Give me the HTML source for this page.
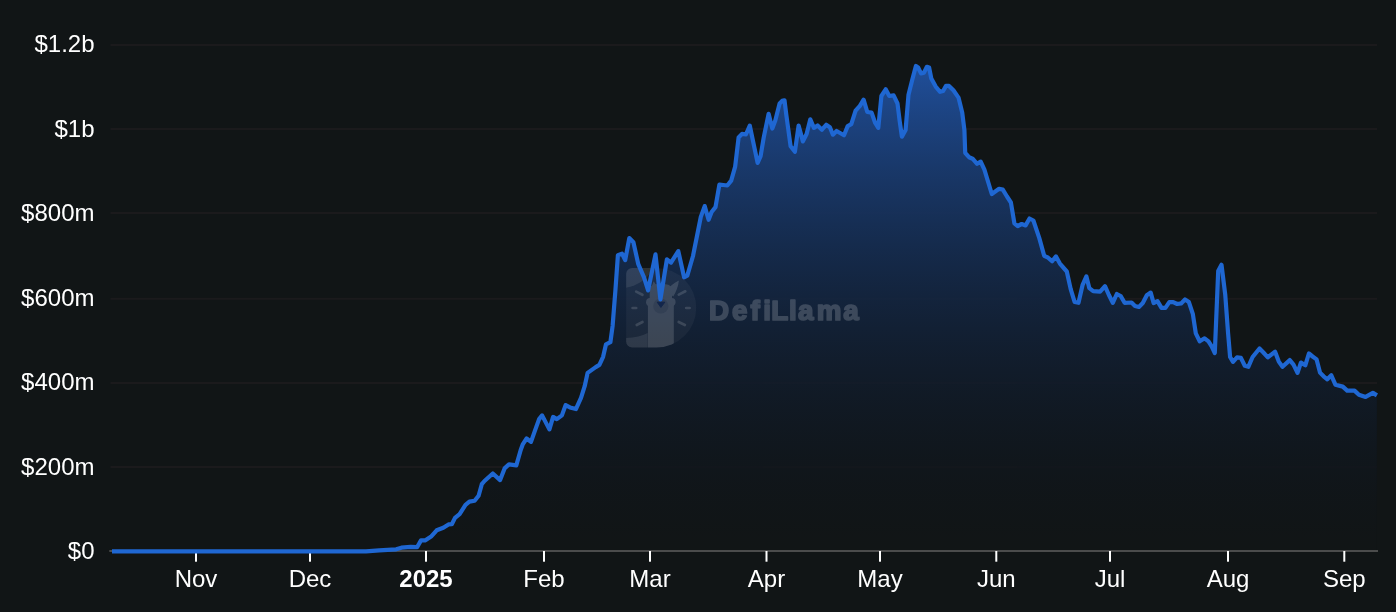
<!DOCTYPE html>
<html><head><meta charset="utf-8"><title>Chart</title>
<style>html,body{margin:0;padding:0;background:#111516;}body{width:1396px;height:612px;overflow:hidden;position:relative;font-family:"Liberation Sans",sans-serif;}</style>
</head><body>
<svg width="1396" height="612" viewBox="0 0 1396 612" style="position:absolute;left:0;top:0;display:block">
<defs><linearGradient id="g" gradientUnits="userSpaceOnUse" x1="0" y1="66" x2="0" y2="551"><stop offset="0" stop-color="#2667d2" stop-opacity="1"/><stop offset="1" stop-color="#050f23" stop-opacity="0"/></linearGradient></defs>
<rect width="1396" height="612" fill="#111516"/>
<rect x="110.5" y="44" width="1266.5" height="2" fill="#1b1a1c"/>
<rect x="110.5" y="128" width="1266.5" height="2" fill="#1b1a1c"/>
<rect x="110.5" y="212" width="1266.5" height="2" fill="#1b1a1c"/>
<rect x="110.5" y="297.8" width="1266.5" height="2" fill="#1b1a1c"/>
<rect x="110.5" y="382" width="1266.5" height="2" fill="#1b1a1c"/>
<rect x="110.5" y="466" width="1266.5" height="2" fill="#1b1a1c"/>
<defs><clipPath id="dclip"><path d="M632.1,268 H656.5 A39.75,39.75 0 0 1 656.5,347.5 H632.1 A6,6 0 0 1 626.1,341.5 V274 A6,6 0 0 1 632.1,268 Z"/></clipPath></defs>
<path d="M112.0,551.4 L340.0,551.4 L366.0,551.3 L379.2,550.3 L396.2,549.3 L401.4,547.7 L410.6,546.9 L417.1,547.2 L421.0,540.4 L425.0,540.4 L431.5,536.2 L436.7,530.3 L443.3,527.7 L448.5,524.4 L451.8,524.2 L455.0,517.9 L459.6,514.2 L465.5,504.8 L469.4,501.6 L474.6,500.7 L478.6,495.7 L481.8,484.2 L484.5,481.0 L492.8,473.5 L500.1,480.1 L504.6,468.4 L509.0,464.4 L516.3,465.4 L520.7,450.0 L522.9,444.1 L526.6,438.5 L531.0,441.9 L535.4,429.4 L539.1,419.1 L542.1,415.4 L549.4,429.4 L553.1,416.9 L556.8,419.1 L561.9,415.4 L565.6,405.1 L570.0,407.4 L575.9,409.1 L581.0,397.9 L584.7,386.2 L587.6,372.9 L595.7,367.1 L599.4,364.9 L603.1,356.8 L606.0,344.3 L610.4,342.1 L612.6,326.0 L615.4,290.4 L617.9,255.2 L622.0,253.6 L625.2,260.1 L629.3,238.1 L633.4,242.2 L638.3,264.2 L644.0,277.3 L648.1,290.4 L655.5,254.4 L660.4,299.3 L666.9,259.3 L671.0,262.6 L678.3,251.1 L684.1,277.3 L687.3,275.7 L693.0,256.0 L697.8,232.0 L700.8,216.9 L704.7,206.1 L708.6,219.8 L711.6,212.0 L715.5,207.1 L719.4,184.5 L727.3,185.5 L731.2,180.6 L735.1,166.9 L738.6,137.5 L742.0,133.9 L745.9,134.5 L749.8,125.7 L757.6,162.9 L760.6,156.1 L763.7,137.7 L768.6,113.8 L772.3,128.5 L775.3,120.6 L779.6,103.4 L782.1,100.9 L784.5,100.3 L786.4,115.6 L790.6,146.3 L794.9,151.8 L798.6,125.5 L802.9,141.4 L806.6,134.0 L810.3,119.3 L813.9,127.9 L817.6,125.5 L821.9,129.7 L826.2,124.8 L829.9,127.3 L832.9,134.7 L836.6,131.0 L844.0,135.3 L847.7,126.1 L851.3,124.2 L855.6,110.7 L859.9,105.8 L863.6,99.7 L867.3,112.0 L871.6,112.6 L875.2,123.0 L878.3,127.9 L881.4,96.0 L885.7,89.3 L889.3,96.0 L893.6,95.4 L897.5,103.5 L899.7,121.2 L901.9,136.6 L905.6,130.0 L908.5,94.7 L912.2,80.0 L915.9,66.0 L918.1,67.5 L921.0,73.4 L924.0,72.6 L926.9,66.8 L929.1,67.5 L931.3,78.5 L935.7,86.6 L940.1,91.8 L943.1,91.0 L946.0,85.9 L949.0,85.9 L953.4,90.3 L958.5,97.6 L962.2,112.4 L964.4,130.0 L965.2,152.8 L969.0,157.2 L972.6,158.7 L977.1,163.8 L980.7,161.6 L984.4,169.7 L991.8,194.0 L999.1,188.8 L1002.8,189.6 L1007.0,196.5 L1010.9,202.5 L1014.4,223.4 L1017.7,226.0 L1021.7,224.0 L1025.6,225.4 L1029.5,218.5 L1033.4,220.5 L1039.3,238.1 L1044.2,255.8 L1048.1,257.7 L1052.1,261.3 L1056.0,256.4 L1059.9,263.6 L1066.8,271.5 L1070.7,289.1 L1074.6,301.9 L1078.5,302.8 L1082.5,285.2 L1086.4,276.4 L1089.3,288.1 L1093.2,291.1 L1100.1,291.7 L1105.0,286.2 L1108.9,295.0 L1112.8,302.8 L1116.8,294.0 L1120.7,296.0 L1124.6,302.8 L1131.5,302.5 L1135.0,306.0 L1138.9,307.0 L1142.8,303.0 L1146.8,295.2 L1150.7,292.6 L1153.6,303.0 L1157.5,301.1 L1161.5,307.9 L1165.4,307.9 L1169.3,302.1 L1173.2,302.1 L1177.2,304.0 L1181.1,303.4 L1185.0,299.5 L1188.9,302.1 L1192.8,313.8 L1195.8,333.4 L1199.7,341.3 L1204.6,338.3 L1208.5,341.3 L1211.5,346.2 L1214.8,353.0 L1218.2,271.0 L1221.5,264.8 L1225.2,294.2 L1228.1,333.4 L1230.1,357.0 L1233.0,361.9 L1237.0,357.4 L1240.9,357.9 L1244.8,365.8 L1248.3,366.8 L1252.6,357.0 L1259.5,348.5 L1263.4,352.5 L1267.8,357.3 L1275.1,351.8 L1278.8,361.6 L1282.5,366.8 L1289.8,360.1 L1293.5,364.6 L1297.5,372.9 L1300.9,362.6 L1305.3,365.3 L1308.9,353.5 L1312.6,356.5 L1316.6,359.4 L1320.0,372.6 L1323.6,376.3 L1327.3,379.3 L1331.3,375.3 L1335.4,384.7 L1342.8,386.6 L1347.2,390.6 L1354.5,390.6 L1358.9,394.7 L1365.6,396.9 L1372.9,392.9 L1376.9,395.4 L1376.9,551 L112.0,551 Z" fill="#111516"/>
<defs><clipPath id="aclip"><path d="M112.0,551.4 L340.0,551.4 L366.0,551.3 L379.2,550.3 L396.2,549.3 L401.4,547.7 L410.6,546.9 L417.1,547.2 L421.0,540.4 L425.0,540.4 L431.5,536.2 L436.7,530.3 L443.3,527.7 L448.5,524.4 L451.8,524.2 L455.0,517.9 L459.6,514.2 L465.5,504.8 L469.4,501.6 L474.6,500.7 L478.6,495.7 L481.8,484.2 L484.5,481.0 L492.8,473.5 L500.1,480.1 L504.6,468.4 L509.0,464.4 L516.3,465.4 L520.7,450.0 L522.9,444.1 L526.6,438.5 L531.0,441.9 L535.4,429.4 L539.1,419.1 L542.1,415.4 L549.4,429.4 L553.1,416.9 L556.8,419.1 L561.9,415.4 L565.6,405.1 L570.0,407.4 L575.9,409.1 L581.0,397.9 L584.7,386.2 L587.6,372.9 L595.7,367.1 L599.4,364.9 L603.1,356.8 L606.0,344.3 L610.4,342.1 L612.6,326.0 L615.4,290.4 L617.9,255.2 L622.0,253.6 L625.2,260.1 L629.3,238.1 L633.4,242.2 L638.3,264.2 L644.0,277.3 L648.1,290.4 L655.5,254.4 L660.4,299.3 L666.9,259.3 L671.0,262.6 L678.3,251.1 L684.1,277.3 L687.3,275.7 L693.0,256.0 L697.8,232.0 L700.8,216.9 L704.7,206.1 L708.6,219.8 L711.6,212.0 L715.5,207.1 L719.4,184.5 L727.3,185.5 L731.2,180.6 L735.1,166.9 L738.6,137.5 L742.0,133.9 L745.9,134.5 L749.8,125.7 L757.6,162.9 L760.6,156.1 L763.7,137.7 L768.6,113.8 L772.3,128.5 L775.3,120.6 L779.6,103.4 L782.1,100.9 L784.5,100.3 L786.4,115.6 L790.6,146.3 L794.9,151.8 L798.6,125.5 L802.9,141.4 L806.6,134.0 L810.3,119.3 L813.9,127.9 L817.6,125.5 L821.9,129.7 L826.2,124.8 L829.9,127.3 L832.9,134.7 L836.6,131.0 L844.0,135.3 L847.7,126.1 L851.3,124.2 L855.6,110.7 L859.9,105.8 L863.6,99.7 L867.3,112.0 L871.6,112.6 L875.2,123.0 L878.3,127.9 L881.4,96.0 L885.7,89.3 L889.3,96.0 L893.6,95.4 L897.5,103.5 L899.7,121.2 L901.9,136.6 L905.6,130.0 L908.5,94.7 L912.2,80.0 L915.9,66.0 L918.1,67.5 L921.0,73.4 L924.0,72.6 L926.9,66.8 L929.1,67.5 L931.3,78.5 L935.7,86.6 L940.1,91.8 L943.1,91.0 L946.0,85.9 L949.0,85.9 L953.4,90.3 L958.5,97.6 L962.2,112.4 L964.4,130.0 L965.2,152.8 L969.0,157.2 L972.6,158.7 L977.1,163.8 L980.7,161.6 L984.4,169.7 L991.8,194.0 L999.1,188.8 L1002.8,189.6 L1007.0,196.5 L1010.9,202.5 L1014.4,223.4 L1017.7,226.0 L1021.7,224.0 L1025.6,225.4 L1029.5,218.5 L1033.4,220.5 L1039.3,238.1 L1044.2,255.8 L1048.1,257.7 L1052.1,261.3 L1056.0,256.4 L1059.9,263.6 L1066.8,271.5 L1070.7,289.1 L1074.6,301.9 L1078.5,302.8 L1082.5,285.2 L1086.4,276.4 L1089.3,288.1 L1093.2,291.1 L1100.1,291.7 L1105.0,286.2 L1108.9,295.0 L1112.8,302.8 L1116.8,294.0 L1120.7,296.0 L1124.6,302.8 L1131.5,302.5 L1135.0,306.0 L1138.9,307.0 L1142.8,303.0 L1146.8,295.2 L1150.7,292.6 L1153.6,303.0 L1157.5,301.1 L1161.5,307.9 L1165.4,307.9 L1169.3,302.1 L1173.2,302.1 L1177.2,304.0 L1181.1,303.4 L1185.0,299.5 L1188.9,302.1 L1192.8,313.8 L1195.8,333.4 L1199.7,341.3 L1204.6,338.3 L1208.5,341.3 L1211.5,346.2 L1214.8,353.0 L1218.2,271.0 L1221.5,264.8 L1225.2,294.2 L1228.1,333.4 L1230.1,357.0 L1233.0,361.9 L1237.0,357.4 L1240.9,357.9 L1244.8,365.8 L1248.3,366.8 L1252.6,357.0 L1259.5,348.5 L1263.4,352.5 L1267.8,357.3 L1275.1,351.8 L1278.8,361.6 L1282.5,366.8 L1289.8,360.1 L1293.5,364.6 L1297.5,372.9 L1300.9,362.6 L1305.3,365.3 L1308.9,353.5 L1312.6,356.5 L1316.6,359.4 L1320.0,372.6 L1323.6,376.3 L1327.3,379.3 L1331.3,375.3 L1335.4,384.7 L1342.8,386.6 L1347.2,390.6 L1354.5,390.6 L1358.9,394.7 L1365.6,396.9 L1372.9,392.9 L1376.9,395.4 L1376.9,551 L112.0,551 Z"/></clipPath></defs>
<g clip-path="url(#aclip)" opacity="0.3">
<rect x="110.5" y="44" width="1266.5" height="2" fill="#1b1a1c"/>
<rect x="110.5" y="128" width="1266.5" height="2" fill="#1b1a1c"/>
<rect x="110.5" y="212" width="1266.5" height="2" fill="#1b1a1c"/>
<rect x="110.5" y="297.8" width="1266.5" height="2" fill="#1b1a1c"/>
<rect x="110.5" y="382" width="1266.5" height="2" fill="#1b1a1c"/>
<rect x="110.5" y="466" width="1266.5" height="2" fill="#1b1a1c"/>
</g>
<path d="M112.0,551.4 L340.0,551.4 L366.0,551.3 L379.2,550.3 L396.2,549.3 L401.4,547.7 L410.6,546.9 L417.1,547.2 L421.0,540.4 L425.0,540.4 L431.5,536.2 L436.7,530.3 L443.3,527.7 L448.5,524.4 L451.8,524.2 L455.0,517.9 L459.6,514.2 L465.5,504.8 L469.4,501.6 L474.6,500.7 L478.6,495.7 L481.8,484.2 L484.5,481.0 L492.8,473.5 L500.1,480.1 L504.6,468.4 L509.0,464.4 L516.3,465.4 L520.7,450.0 L522.9,444.1 L526.6,438.5 L531.0,441.9 L535.4,429.4 L539.1,419.1 L542.1,415.4 L549.4,429.4 L553.1,416.9 L556.8,419.1 L561.9,415.4 L565.6,405.1 L570.0,407.4 L575.9,409.1 L581.0,397.9 L584.7,386.2 L587.6,372.9 L595.7,367.1 L599.4,364.9 L603.1,356.8 L606.0,344.3 L610.4,342.1 L612.6,326.0 L615.4,290.4 L617.9,255.2 L622.0,253.6 L625.2,260.1 L629.3,238.1 L633.4,242.2 L638.3,264.2 L644.0,277.3 L648.1,290.4 L655.5,254.4 L660.4,299.3 L666.9,259.3 L671.0,262.6 L678.3,251.1 L684.1,277.3 L687.3,275.7 L693.0,256.0 L697.8,232.0 L700.8,216.9 L704.7,206.1 L708.6,219.8 L711.6,212.0 L715.5,207.1 L719.4,184.5 L727.3,185.5 L731.2,180.6 L735.1,166.9 L738.6,137.5 L742.0,133.9 L745.9,134.5 L749.8,125.7 L757.6,162.9 L760.6,156.1 L763.7,137.7 L768.6,113.8 L772.3,128.5 L775.3,120.6 L779.6,103.4 L782.1,100.9 L784.5,100.3 L786.4,115.6 L790.6,146.3 L794.9,151.8 L798.6,125.5 L802.9,141.4 L806.6,134.0 L810.3,119.3 L813.9,127.9 L817.6,125.5 L821.9,129.7 L826.2,124.8 L829.9,127.3 L832.9,134.7 L836.6,131.0 L844.0,135.3 L847.7,126.1 L851.3,124.2 L855.6,110.7 L859.9,105.8 L863.6,99.7 L867.3,112.0 L871.6,112.6 L875.2,123.0 L878.3,127.9 L881.4,96.0 L885.7,89.3 L889.3,96.0 L893.6,95.4 L897.5,103.5 L899.7,121.2 L901.9,136.6 L905.6,130.0 L908.5,94.7 L912.2,80.0 L915.9,66.0 L918.1,67.5 L921.0,73.4 L924.0,72.6 L926.9,66.8 L929.1,67.5 L931.3,78.5 L935.7,86.6 L940.1,91.8 L943.1,91.0 L946.0,85.9 L949.0,85.9 L953.4,90.3 L958.5,97.6 L962.2,112.4 L964.4,130.0 L965.2,152.8 L969.0,157.2 L972.6,158.7 L977.1,163.8 L980.7,161.6 L984.4,169.7 L991.8,194.0 L999.1,188.8 L1002.8,189.6 L1007.0,196.5 L1010.9,202.5 L1014.4,223.4 L1017.7,226.0 L1021.7,224.0 L1025.6,225.4 L1029.5,218.5 L1033.4,220.5 L1039.3,238.1 L1044.2,255.8 L1048.1,257.7 L1052.1,261.3 L1056.0,256.4 L1059.9,263.6 L1066.8,271.5 L1070.7,289.1 L1074.6,301.9 L1078.5,302.8 L1082.5,285.2 L1086.4,276.4 L1089.3,288.1 L1093.2,291.1 L1100.1,291.7 L1105.0,286.2 L1108.9,295.0 L1112.8,302.8 L1116.8,294.0 L1120.7,296.0 L1124.6,302.8 L1131.5,302.5 L1135.0,306.0 L1138.9,307.0 L1142.8,303.0 L1146.8,295.2 L1150.7,292.6 L1153.6,303.0 L1157.5,301.1 L1161.5,307.9 L1165.4,307.9 L1169.3,302.1 L1173.2,302.1 L1177.2,304.0 L1181.1,303.4 L1185.0,299.5 L1188.9,302.1 L1192.8,313.8 L1195.8,333.4 L1199.7,341.3 L1204.6,338.3 L1208.5,341.3 L1211.5,346.2 L1214.8,353.0 L1218.2,271.0 L1221.5,264.8 L1225.2,294.2 L1228.1,333.4 L1230.1,357.0 L1233.0,361.9 L1237.0,357.4 L1240.9,357.9 L1244.8,365.8 L1248.3,366.8 L1252.6,357.0 L1259.5,348.5 L1263.4,352.5 L1267.8,357.3 L1275.1,351.8 L1278.8,361.6 L1282.5,366.8 L1289.8,360.1 L1293.5,364.6 L1297.5,372.9 L1300.9,362.6 L1305.3,365.3 L1308.9,353.5 L1312.6,356.5 L1316.6,359.4 L1320.0,372.6 L1323.6,376.3 L1327.3,379.3 L1331.3,375.3 L1335.4,384.7 L1342.8,386.6 L1347.2,390.6 L1354.5,390.6 L1358.9,394.7 L1365.6,396.9 L1372.9,392.9 L1376.9,395.4 L1376.9,551 L112.0,551 Z" fill="url(#g)" fill-opacity="0.7"/>
<g id="wm">
<path d="M632.1,268 H656.5 A39.75,39.75 0 0 1 656.5,347.5 H632.1 A6,6 0 0 1 626.1,341.5 V274 A6,6 0 0 1 632.1,268 Z" fill="#fff" fill-opacity="0.045"/>
<g clip-path="url(#dclip)" fill="#fff" fill-opacity="0.085"><circle cx="620" cy="250" r="38.2"/><path d="M620,338.2 C632,338.2 641,336.8 647.6,333 L647.6,352 L620,352 Z"/></g>
<g opacity="0.142" fill="#fff" clip-path="url(#dclip)"><rect x="647.9" y="300" width="25.9" height="50"/><circle cx="650.2" cy="302.2" r="4.1"/><circle cx="671.5" cy="302" r="4.1"/><path d="M649.7,305 V291 Q649.7,284.2 656.5,284.2 H665.5 Q672,284.2 672,291 V305 Z"/><path d="M666.5,290.5 Q671.5,284 678.9,280.4 Q678,288.5 673.2,296.5 Z"/><path d="M650.6,290 L653.6,281.3 L657.5,287 Z"/></g>
<circle cx="660.8" cy="306" r="7.6" fill="#0a1a3a" fill-opacity="0.18"/>
<path d="M657.2,302.2 L664.8,302.2 L660.9,307.4 Z" fill="#13264a" stroke="#13264a" stroke-width="1" stroke-linejoin="round"/>
<g stroke="#fff" stroke-opacity="0.14" stroke-width="2.7" stroke-linecap="round" fill="none"><path d="M636.2,291.6 L642.4,294.8 M678.8,294.6 L685.3,291.3 M632.6,308 L636.2,308 M686.2,308 L689.6,308 M636.7,325 L642.5,322 M678.7,322 L684.9,325"/></g>
<defs><mask id="wmt" maskUnits="userSpaceOnUse" x="700" y="288" width="170" height="44"><text x="709.1 731.9 750.6 763.2 771.2 789.1 798.0 816.8 843.3" y="319.5" font-family="Liberation Sans, sans-serif" font-weight="700" font-size="27.8" fill="#fff" stroke="#fff" stroke-width="1.7" stroke-linejoin="round">DefiLlama</text></mask></defs>
<rect x="700" y="288" width="170" height="44" fill="#fff" fill-opacity="0.18" mask="url(#wmt)"/>
</g>
<rect x="109.3" y="550" width="1268.7" height="2" fill="#4b4c4c"/>
<rect x="195" y="551" width="2" height="10.7" fill="#fff"/>
<rect x="309" y="551" width="2" height="10.7" fill="#fff"/>
<rect x="425" y="551" width="2" height="10.7" fill="#fff"/>
<rect x="543" y="551" width="2" height="10.7" fill="#fff"/>
<rect x="649" y="551" width="2" height="10.7" fill="#fff"/>
<rect x="765.5" y="551" width="2" height="10.7" fill="#fff"/>
<rect x="879" y="551" width="2" height="10.7" fill="#fff"/>
<rect x="995.3" y="551" width="2" height="10.7" fill="#fff"/>
<rect x="1109" y="551" width="2" height="10.7" fill="#fff"/>
<rect x="1227" y="551" width="2" height="10.7" fill="#fff"/>
<rect x="1343.3" y="551" width="2" height="10.7" fill="#fff"/>
<path d="M112.0,551.4 L340.0,551.4 L366.0,551.3 L379.2,550.3 L396.2,549.3 L401.4,547.7 L410.6,546.9 L417.1,547.2 L421.0,540.4 L425.0,540.4 L431.5,536.2 L436.7,530.3 L443.3,527.7 L448.5,524.4 L451.8,524.2 L455.0,517.9 L459.6,514.2 L465.5,504.8 L469.4,501.6 L474.6,500.7 L478.6,495.7 L481.8,484.2 L484.5,481.0 L492.8,473.5 L500.1,480.1 L504.6,468.4 L509.0,464.4 L516.3,465.4 L520.7,450.0 L522.9,444.1 L526.6,438.5 L531.0,441.9 L535.4,429.4 L539.1,419.1 L542.1,415.4 L549.4,429.4 L553.1,416.9 L556.8,419.1 L561.9,415.4 L565.6,405.1 L570.0,407.4 L575.9,409.1 L581.0,397.9 L584.7,386.2 L587.6,372.9 L595.7,367.1 L599.4,364.9 L603.1,356.8 L606.0,344.3 L610.4,342.1 L612.6,326.0 L615.4,290.4 L617.9,255.2 L622.0,253.6 L625.2,260.1 L629.3,238.1 L633.4,242.2 L638.3,264.2 L644.0,277.3 L648.1,290.4 L655.5,254.4 L660.4,299.3 L666.9,259.3 L671.0,262.6 L678.3,251.1 L684.1,277.3 L687.3,275.7 L693.0,256.0 L697.8,232.0 L700.8,216.9 L704.7,206.1 L708.6,219.8 L711.6,212.0 L715.5,207.1 L719.4,184.5 L727.3,185.5 L731.2,180.6 L735.1,166.9 L738.6,137.5 L742.0,133.9 L745.9,134.5 L749.8,125.7 L757.6,162.9 L760.6,156.1 L763.7,137.7 L768.6,113.8 L772.3,128.5 L775.3,120.6 L779.6,103.4 L782.1,100.9 L784.5,100.3 L786.4,115.6 L790.6,146.3 L794.9,151.8 L798.6,125.5 L802.9,141.4 L806.6,134.0 L810.3,119.3 L813.9,127.9 L817.6,125.5 L821.9,129.7 L826.2,124.8 L829.9,127.3 L832.9,134.7 L836.6,131.0 L844.0,135.3 L847.7,126.1 L851.3,124.2 L855.6,110.7 L859.9,105.8 L863.6,99.7 L867.3,112.0 L871.6,112.6 L875.2,123.0 L878.3,127.9 L881.4,96.0 L885.7,89.3 L889.3,96.0 L893.6,95.4 L897.5,103.5 L899.7,121.2 L901.9,136.6 L905.6,130.0 L908.5,94.7 L912.2,80.0 L915.9,66.0 L918.1,67.5 L921.0,73.4 L924.0,72.6 L926.9,66.8 L929.1,67.5 L931.3,78.5 L935.7,86.6 L940.1,91.8 L943.1,91.0 L946.0,85.9 L949.0,85.9 L953.4,90.3 L958.5,97.6 L962.2,112.4 L964.4,130.0 L965.2,152.8 L969.0,157.2 L972.6,158.7 L977.1,163.8 L980.7,161.6 L984.4,169.7 L991.8,194.0 L999.1,188.8 L1002.8,189.6 L1007.0,196.5 L1010.9,202.5 L1014.4,223.4 L1017.7,226.0 L1021.7,224.0 L1025.6,225.4 L1029.5,218.5 L1033.4,220.5 L1039.3,238.1 L1044.2,255.8 L1048.1,257.7 L1052.1,261.3 L1056.0,256.4 L1059.9,263.6 L1066.8,271.5 L1070.7,289.1 L1074.6,301.9 L1078.5,302.8 L1082.5,285.2 L1086.4,276.4 L1089.3,288.1 L1093.2,291.1 L1100.1,291.7 L1105.0,286.2 L1108.9,295.0 L1112.8,302.8 L1116.8,294.0 L1120.7,296.0 L1124.6,302.8 L1131.5,302.5 L1135.0,306.0 L1138.9,307.0 L1142.8,303.0 L1146.8,295.2 L1150.7,292.6 L1153.6,303.0 L1157.5,301.1 L1161.5,307.9 L1165.4,307.9 L1169.3,302.1 L1173.2,302.1 L1177.2,304.0 L1181.1,303.4 L1185.0,299.5 L1188.9,302.1 L1192.8,313.8 L1195.8,333.4 L1199.7,341.3 L1204.6,338.3 L1208.5,341.3 L1211.5,346.2 L1214.8,353.0 L1218.2,271.0 L1221.5,264.8 L1225.2,294.2 L1228.1,333.4 L1230.1,357.0 L1233.0,361.9 L1237.0,357.4 L1240.9,357.9 L1244.8,365.8 L1248.3,366.8 L1252.6,357.0 L1259.5,348.5 L1263.4,352.5 L1267.8,357.3 L1275.1,351.8 L1278.8,361.6 L1282.5,366.8 L1289.8,360.1 L1293.5,364.6 L1297.5,372.9 L1300.9,362.6 L1305.3,365.3 L1308.9,353.5 L1312.6,356.5 L1316.6,359.4 L1320.0,372.6 L1323.6,376.3 L1327.3,379.3 L1331.3,375.3 L1335.4,384.7 L1342.8,386.6 L1347.2,390.6 L1354.5,390.6 L1358.9,394.7 L1365.6,396.9 L1372.9,392.9 L1376.9,395.4" fill="none" stroke="#1f67d2" stroke-width="4.2" stroke-linejoin="round" stroke-linecap="butt"/>
</svg>
<svg width="1396" height="612" viewBox="0 0 1396 612" style="position:absolute;left:0;top:0;display:block;will-change:transform">
<text x="94.5" y="52.00" text-anchor="end" font-family="Liberation Sans, sans-serif" font-size="24" fill="#fff">$1.2b</text>
<text x="94.5" y="136.55" text-anchor="end" font-family="Liberation Sans, sans-serif" font-size="24" fill="#fff">$1b</text>
<text x="94.5" y="221.10" text-anchor="end" font-family="Liberation Sans, sans-serif" font-size="24" fill="#fff">$800m</text>
<text x="94.5" y="305.65" text-anchor="end" font-family="Liberation Sans, sans-serif" font-size="24" fill="#fff">$600m</text>
<text x="94.5" y="390.20" text-anchor="end" font-family="Liberation Sans, sans-serif" font-size="24" fill="#fff">$400m</text>
<text x="94.5" y="474.75" text-anchor="end" font-family="Liberation Sans, sans-serif" font-size="24" fill="#fff">$200m</text>
<text x="94.5" y="559.30" text-anchor="end" font-family="Liberation Sans, sans-serif" font-size="24" fill="#fff">$0</text>
<text x="196" y="587" text-anchor="middle" font-family="Liberation Sans, sans-serif" font-size="24" fill="#fff">Nov</text>
<text x="310" y="587" text-anchor="middle" font-family="Liberation Sans, sans-serif" font-size="24" fill="#fff">Dec</text>
<text x="426" y="587" text-anchor="middle" font-family="Liberation Sans, sans-serif" font-size="24" font-weight="700" fill="#fff">2025</text>
<text x="544" y="587" text-anchor="middle" font-family="Liberation Sans, sans-serif" font-size="24" fill="#fff">Feb</text>
<text x="650" y="587" text-anchor="middle" font-family="Liberation Sans, sans-serif" font-size="24" fill="#fff">Mar</text>
<text x="766.5" y="587" text-anchor="middle" font-family="Liberation Sans, sans-serif" font-size="24" fill="#fff">Apr</text>
<text x="880" y="587" text-anchor="middle" font-family="Liberation Sans, sans-serif" font-size="24" fill="#fff">May</text>
<text x="996.3" y="587" text-anchor="middle" font-family="Liberation Sans, sans-serif" font-size="24" fill="#fff">Jun</text>
<text x="1110" y="587" text-anchor="middle" font-family="Liberation Sans, sans-serif" font-size="24" fill="#fff">Jul</text>
<text x="1228" y="587" text-anchor="middle" font-family="Liberation Sans, sans-serif" font-size="24" fill="#fff">Aug</text>
<text x="1344.3" y="587" text-anchor="middle" font-family="Liberation Sans, sans-serif" font-size="24" fill="#fff">Sep</text>
</svg>
</body></html>
